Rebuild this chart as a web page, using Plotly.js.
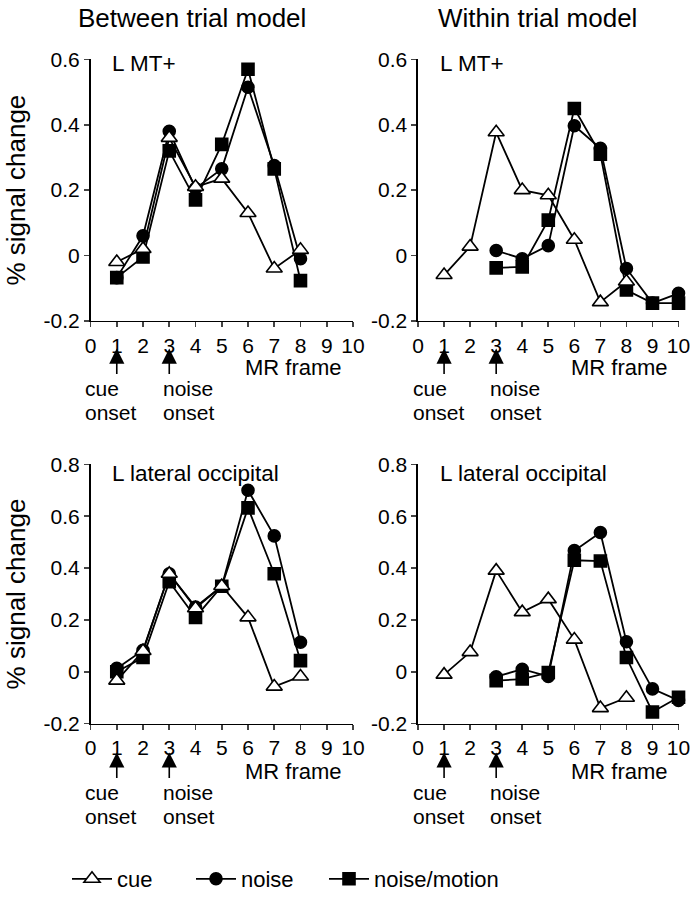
<!DOCTYPE html>
<html>
<head>
<meta charset="utf-8">
<script src="https://cdn.plot.ly/plotly-3.0.1.min.js"></script>
<style>html,body{margin:0;padding:0;background:#fff;}#chart{width:698px;height:900px;}</style>
</head>
<body>
<div id="chart"></div>
<script>
// ---- data ----
const cueFrames = [1, 2, 3, 4, 5, 6, 7, 8];
const betweenFrames = [1, 2, 3, 4, 5, 6, 7, 8];
const withinNoiseFrames = [3, 4, 5, 6, 7, 8, 9, 10];

// Between trial model, L MT+
const btMtCue = [-0.02, 0.02, 0.36, 0.21, 0.235, 0.13, -0.04, 0.017];
const btMtNoise = [-0.068, 0.06, 0.38, 0.205, 0.265, 0.515, 0.275, -0.01];
const btMtNoiseMotion = [-0.068, -0.005, 0.32, 0.17, 0.34, 0.57, 0.265, -0.077];

// Within trial model, L MT+
const wtMtCue = [-0.06, 0.027, 0.377, 0.2, 0.184, 0.048, -0.143, -0.08];
const wtMtNoise = [0.015, -0.01, 0.03, 0.397, 0.328, -0.04, -0.146, -0.116];
const wtMtNoiseMotion = [-0.038, -0.035, 0.108, 0.45, 0.31, -0.106, -0.146, -0.146];

// Between trial model, L lateral occipital
const btLoCue = [-0.034, 0.08, 0.378, 0.245, 0.331, 0.21, -0.057, -0.018];
const btLoNoise = [0.013, 0.083, 0.378, 0.25, 0.33, 0.7, 0.524, 0.114];
const btLoNoiseMotion = [0, 0.055, 0.347, 0.21, 0.33, 0.632, 0.378, 0.043];

// Within trial model, L lateral occipital
const wtLoCue = [-0.011, 0.076, 0.39, 0.23, 0.28, 0.124, -0.14, -0.1];
const wtLoNoise = [-0.019, 0.01, -0.018, 0.467, 0.537, 0.116, -0.066, -0.11];
const wtLoNoiseMotion = [-0.034, -0.028, -0.003, 0.43, 0.427, 0.055, -0.155, -0.098];

const seriesNames = ['cue', 'noise', 'noise/motion'];
const columnTitles = ['Between trial model', 'Within trial model'];
const panelLabels = ['L MT+', 'L MT+', 'L lateral occipital', 'L lateral occipital'];
const xTickVals = [0, 1, 2, 3, 4, 5, 6, 7, 8, 9, 10];
const yTickValsTop = [-0.2, 0, 0.2, 0.4, 0.6];
const yTickTextTop = ['-0.2', '0', '0.2', '0.4', '0.6'];
const yTickValsBottom = [-0.2, 0, 0.2, 0.4, 0.6, 0.8];
const yTickTextBottom = ['-0.2', '0', '0.2', '0.4', '0.6', '0.8'];
const onsetFrames = [1, 3];
const onsetWords = ['cue', 'noise'];
const onsetWord2 = 'onset';
const yTitle = '% signal change';
const xLabel = 'MR frame';

// ---- styling ----
const FONT = 'Liberation Sans, Arial, Helvetica, sans-serif';
const styles = {
  'cue': {symbol: 'triangle-up', color: '#ffffff', size: 14, legend: 'legend'},
  'noise': {symbol: 'circle', color: '#000000', size: 12, legend: 'legend2'},
  'noise/motion': {symbol: 'square', color: '#000000', size: 12, legend: 'legend3'}
};

function trace(name, x, y, ax, showLegend) {
  const s = styles[name];
  return {
    type: 'scatter', mode: 'lines+markers', name: name,
    x: x, y: y, xaxis: 'x' + ax, yaxis: 'y' + ax,
    line: {color: '#000', width: 1.8},
    marker: {symbol: s.symbol, color: s.color, size: s.size, line: {color: '#000', width: 1.6}},
    cliponaxis: false, showlegend: showLegend, legend: s.legend
  };
}

const panels = [
  {ax: '', cue: [cueFrames, btMtCue], noise: [betweenFrames, btMtNoise], nm: [betweenFrames, btMtNoiseMotion]},
  {ax: '2', cue: [cueFrames, wtMtCue], noise: [withinNoiseFrames, wtMtNoise], nm: [withinNoiseFrames, wtMtNoiseMotion]},
  {ax: '3', cue: [cueFrames, btLoCue], noise: [betweenFrames, btLoNoise], nm: [betweenFrames, btLoNoiseMotion]},
  {ax: '4', cue: [cueFrames, wtLoCue], noise: [withinNoiseFrames, wtLoNoise], nm: [withinNoiseFrames, wtLoNoiseMotion]}
];

const data = [];
panels.forEach((p, i) => {
  const first = i === 0;
  data.push(trace(seriesNames[2], p.nm[0], p.nm[1], p.ax, first));
  data.push(trace(seriesNames[1], p.noise[0], p.noise[1], p.ax, first));
  data.push(trace(seriesNames[0], p.cue[0], p.cue[1], p.ax, first));
});

const W = 698, H = 900;
const py = v => 1 - v / H;   // pixel row -> paper y
const px = v => v / W;       // pixel column -> paper x

const leftDom = [0.1297, 0.5057];
const rightDom = [0.5989, 0.9721];
const topDom = [0.64, 0.9333];
const botDom = [0.1878, 0.4789];

function xaxis(dom, anchor) {
  return {
    domain: dom, anchor: anchor, range: [0, 10], tickvals: xTickVals,
    showline: true, linewidth: 1.6, linecolor: '#000', ticks: 'outside', ticklen: 5, tickwidth: 1.6,
    showgrid: false, zeroline: false, tickfont: {family: FONT, size: 21, color: '#000'}, fixedrange: true
  };
}
function yaxis(dom, anchor, rng, tv, tt, withTitle) {
  const a = {
    domain: dom, anchor: anchor, range: rng, tickvals: tv, ticktext: tt,
    showline: true, linewidth: 1.6, linecolor: '#000', ticks: 'outside', ticklen: 5, tickwidth: 1.6,
    showgrid: false, zeroline: false, tickfont: {family: FONT, size: 21, color: '#000'}, fixedrange: true
  };
  if (withTitle) a.title = {text: yTitle, font: {family: FONT, size: 26, color: '#000'}, standoff: 10};
  return a;
}

const annotations = [];
// column titles
annotations.push({xref: 'paper', yref: 'paper', x: px(192), y: py(18), text: columnTitles[0], showarrow: false,
  xanchor: 'center', yanchor: 'middle', font: {family: FONT, size: 26, color: '#000'}});
annotations.push({xref: 'paper', yref: 'paper', x: px(537), y: py(18), text: columnTitles[1], showarrow: false,
  xanchor: 'center', yanchor: 'middle', font: {family: FONT, size: 26, color: '#000'}});

const rows = [
  {axes: ['', '2'], doms: [leftDom, rightDom], labelY: 64, frameY: 371, arrowTip: 352, cueY: 392, onsetY: 417},
  {axes: ['3', '4'], doms: [leftDom, rightDom], labelY: 478, frameY: 779, arrowTip: 760, cueY: 800, onsetY: 825}
];
const textOffsetFrames = [-0.23, 2.73];
let k = 0;
rows.forEach(r => {
  r.axes.forEach((ax, c) => {
    const dom = r.doms[c];
    const x0 = dom[0] * W, unit = (dom[1] - dom[0]) * W / 10;
    // panel label
    annotations.push({xref: 'x' + ax + ' domain', yref: 'paper', x: 0.075, y: py(r.labelY), text: panelLabels[k],
      showarrow: false, xanchor: 'left', yanchor: 'middle', font: {family: FONT, size: 22.5, color: '#000'}});
    k++;
    // MR frame
    annotations.push({xref: 'x' + ax, yref: 'paper', x: 7.75, y: py(r.frameY), text: xLabel, showarrow: false,
      xanchor: 'center', yanchor: 'middle', font: {family: FONT, size: 22, color: '#000'}});
    onsetFrames.forEach((f, j) => {
      annotations.push({xref: 'x' + ax, yref: 'paper', x: f, y: py(r.arrowTip), text: '', showarrow: true,
        ax: 0, ay: 27, arrowhead: 2, arrowsize: 1.9, arrowwidth: 1.6, arrowcolor: '#000'});
      const tx = px(x0 + textOffsetFrames[j] * unit);
      annotations.push({xref: 'paper', yref: 'paper', x: tx, y: py(r.cueY), text: onsetWords[j], showarrow: false,
        xanchor: 'left', yanchor: 'middle', align: 'left', borderpad: 0, font: {family: FONT, size: 21, color: '#000'}});
      annotations.push({xref: 'paper', yref: 'paper', x: tx, y: py(r.onsetY), text: onsetWord2, showarrow: false,
        xanchor: 'left', yanchor: 'middle', align: 'left', borderpad: 0, font: {family: FONT, size: 21, color: '#000'}});
    });
  });
});

function legendAt(xPix) {
  return {orientation: 'h', x: px(xPix), xanchor: 'left', y: py(888), yanchor: 'middle',
    font: {family: FONT, size: 22, color: '#000'}, bgcolor: 'rgba(0,0,0,0)', itemwidth: 40};
}

const layout = {
  width: W, height: H,
  margin: {l: 0, r: 0, t: 0, b: 0},
  paper_bgcolor: '#fff', plot_bgcolor: '#fff',
  font: {family: FONT, color: '#000'},
  xaxis: xaxis(leftDom, 'y'),
  yaxis: yaxis(topDom, 'x', [-0.2, 0.6], yTickValsTop, yTickTextTop, true),
  xaxis2: xaxis(rightDom, 'y2'),
  yaxis2: yaxis(topDom, 'x2', [-0.2, 0.6], yTickValsTop, yTickTextTop, false),
  xaxis3: xaxis(leftDom, 'y3'),
  yaxis3: yaxis(botDom, 'x3', [-0.2, 0.8], yTickValsBottom, yTickTextBottom, true),
  xaxis4: xaxis(rightDom, 'y4'),
  yaxis4: yaxis(botDom, 'x4', [-0.2, 0.8], yTickValsBottom, yTickTextBottom, false),
  showlegend: true,
  legend: legendAt(67),
  legend2: legendAt(191),
  legend3: legendAt(324),
  annotations: annotations
};

Plotly.newPlot('chart', data, layout, {staticPlot: true, displayModeBar: false});
</script>
</body>
</html>
